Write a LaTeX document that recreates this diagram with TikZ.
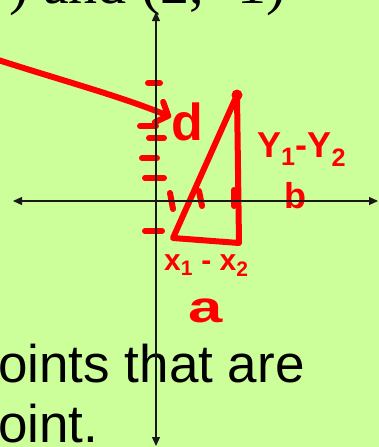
\documentclass[tikz,border=0pt]{standalone}
\usepackage{fontspec}
\setmainfont{Liberation Serif}
\newfontfamily\slidefont{Liberation Sans}
\usetikzlibrary{arrows.meta}

\definecolor{slidegreen}{RGB}{204,255,153}
\definecolor{penred}{RGB}{255,0,0}
\definecolor{axisgray}{RGB}{25,25,25}

\begin{document}
\begin{tikzpicture}[
    x=1pt,
    y=-1pt,
    pen/.style={
        draw=penred,
        line width=6pt,
        line cap=round,
        line join=round
    },
    axis/.style={
        draw=axisgray,
        line width=1.2pt,
        {Triangle[length=9pt,width=8pt]}-{Triangle[length=9pt,width=8pt]}
    },
    hand/.style={
        text=penred,
        inner sep=0pt,
        font=\slidefont\bfseries\fontsize{#1}{#1}\selectfont
    },
    slidetext/.style={
        inner sep=0pt,
        anchor=base west
    }
]

% Slide background
\useasboundingbox (0,0) rectangle (379,447);
\fill[slidegreen] (0,0) rectangle (379,447);

% Slide text, cut off by the frame
\node[slidetext, font=\fontsize{58}{70}\selectfont] (title) at (9,4) {) and (2, -1)};
\node[slidetext, font=\slidefont\fontsize{53}{63}\selectfont] (line1) at (-2,382) {oints that are};
\node[slidetext, font=\slidefont\fontsize{53}{63}\selectfont] (line2) at (-2,442) {oint.};

% Tick marks on the y axis
\foreach \xa/\xb/\yy in {148/160/83, 140/156/126, 149/164/138, 142/157/158, 145/164/178, 145/162/231}{
    \draw[pen] (\xa,\yy) -- (\xb,\yy);
}

% Tick marks on the x axis
\foreach \xa/\xb/\ya/\yb in {170/173/193/209, 199/202/191/206, 234/234/190/206}{
    \draw[pen] (\xa,\ya) -- (\xb,\yb);
}

% Right triangle
\coordinate (top) at (237,95);
\coordinate (left) at (173,238);
\coordinate (right) at (239,243);
\draw[pen] (top) -- (left) -- (right) -- cycle;
\fill[penred] (top) circle (5.5);

% Labels
\node[hand=52] (d) at (187,122) {d};
\node[hand=36, anchor=base west] (dy) at (257,157) {Y\textsubscript{1}-Y\textsubscript{2}};
\node[hand=36, anchor=base] (b) at (295,208) {b};
\node[hand=30, anchor=base west] (dx) at (164,270) {x\textsubscript{1} - x\textsubscript{2}};
\node[hand=44, anchor=base] (a) at (206,322) {\scalebox{1.4}[1]{a}};

% Arrow pointing at d
\coordinate (from) at (-8,58);
\coordinate (tip) at (171,117);
\draw[pen, -{Straight Barb[round,length=10pt,width=22pt]}]
    (from) .. controls (60,80) and (120,96) .. (tip);

% Axes
\coordinate (xl) at (13,201);
\coordinate (xr) at (378,201);
\coordinate (yt) at (156,12);
\coordinate (yb) at (156,446);
\draw[axis] (xl) -- (xr);
\draw[axis] (yb) -- (yt);

\end{tikzpicture}
\end{document}
